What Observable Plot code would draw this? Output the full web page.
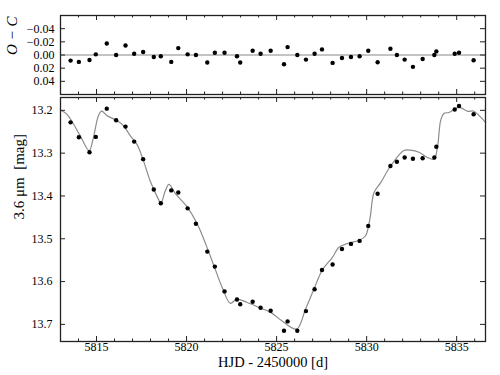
<!DOCTYPE html>
<html><head><meta charset="utf-8">
<script src="https://cdn.jsdelivr.net/npm/d3@7"></script>
<script src="https://cdn.jsdelivr.net/npm/@observablehq/plot@0.6"></script>
<style>
body{margin:0;background:#fff}
#chart svg{display:block;background:#fff}
#chart svg text{font-family:"Liberation Serif","DejaVu Serif",serif !important}
</style>
</head><body><div id="chart"></div>
<script>
// Observed epochs (HJD - 2450000), 3.6 micron magnitudes and O-C residuals
const jd = [5813.56, 5814.02, 5814.61, 5814.96, 5815.57, 5816.09, 5816.61, 5817.09, 5817.59, 5818.18,
  5818.57, 5819.15, 5819.54, 5820.06, 5820.52, 5821.15, 5821.57, 5822.11, 5822.80, 5822.98,
  5823.67, 5824.11, 5824.67, 5825.41, 5825.61, 5826.15, 5826.63, 5827.11, 5827.52, 5828.11,
  5828.63, 5829.13, 5829.61, 5830.09, 5830.61, 5831.32, 5831.68, 5832.11, 5832.57, 5833.11,
  5833.76, 5833.87, 5834.89, 5835.13, 5835.94];
const mag = [13.228, 13.263, 13.298, 13.262, 13.196, 13.223, 13.238, 13.273, 13.314, 13.385,
  13.417, 13.387, 13.392, 13.429, 13.465, 13.530, 13.565, 13.623, 13.642, 13.653,
  13.647, 13.661, 13.668, 13.715, 13.693, 13.715, 13.669, 13.618, 13.573, 13.560,
  13.524, 13.512, 13.505, 13.470, 13.395, 13.330, 13.320, 13.310, 13.313, 13.312,
  13.310, 13.285, 13.198, 13.190, 13.209];
const oc = [0.0085, 0.0105, 0.0075, -0.001, -0.0175, 0.000, -0.0145, -0.002, -0.0045, 0.003,
  0.002, 0.0105, -0.0105, -0.001, 0.000, 0.0115, -0.0035, -0.0035, 0.002, 0.0115,
  -0.0065, -0.002, -0.0065, 0.014, -0.012, 0.000, 0.007, -0.002, -0.0085, 0.012,
  0.0045, 0.003, 0.002, -0.0065, 0.011, -0.0095, 0.000, 0.007, 0.018, 0.006,
  0.000, -0.0055, -0.002, -0.0035, 0.008];

// Model light curve
const modelJd = [5813.00, 5813.35, 5813.72, 5814.09, 5814.59, 5814.83, 5815.11, 5815.29, 5815.57, 5816.13,
  5816.50, 5816.87, 5817.24, 5817.61, 5817.98, 5818.44, 5818.57, 5818.82, 5819.02, 5819.39,
  5820.04, 5820.59, 5821.06, 5821.52, 5821.98, 5822.44, 5822.78, 5823.37, 5824.11, 5824.67,
  5825.31, 5826.11, 5826.61, 5827.07, 5827.54, 5828.09, 5828.46, 5828.93, 5829.57, 5829.94,
  5830.13, 5830.22, 5830.41, 5830.78, 5831.33, 5832.07, 5832.44, 5832.91, 5833.37, 5833.74,
  5833.93, 5834.11, 5834.30, 5834.57, 5835.13, 5835.59, 5835.96, 5836.33, 5836.60];
const modelMag = [13.199, 13.209, 13.232, 13.259, 13.294, 13.263, 13.212, 13.202, 13.212, 13.224,
  13.236, 13.259, 13.279, 13.318, 13.365, 13.408, 13.418, 13.388, 13.373, 13.395,
  13.426, 13.465, 13.512, 13.563, 13.614, 13.651, 13.641, 13.649, 13.662, 13.672,
  13.692, 13.711, 13.664, 13.618, 13.573, 13.544, 13.520, 13.511, 13.504, 13.493,
  13.465, 13.443, 13.392, 13.369, 13.330, 13.294, 13.293, 13.298, 13.310, 13.314,
  13.287, 13.224, 13.207, 13.205, 13.193, 13.202, 13.202, 13.216, 13.228];

// Ticks
const xMajor = [5815, 5820, 5825, 5830, 5835];
const xMinor = [5813, 5814, 5816, 5817, 5818, 5819, 5821, 5822, 5823, 5824, 5826, 5827, 5828, 5829,
  5831, 5832, 5833, 5834, 5836];
const magTicks = [13.2, 13.3, 13.4, 13.5, 13.6, 13.7];
const ocTicks = [-0.04, -0.02, 0.00, 0.02, 0.04];

const xDomain = [5813, 5836.6];
const magDomain = [13.17, 13.74];
const ocDomain = [-0.06, 0.06];

const obs = jd.map((d, i) => ({jd: d, mag: mag[i], oc: oc[i]}));
const model = modelJd.map((d, i) => ({jd: d, mag: modelMag[i]}));

const W = 500, ML = 60, MR = 15;
const FW = W - ML - MR;
const INK = "#222";
const font = {fontFamily: "'Liberation Serif', 'DejaVu Serif', serif", fontSize: "12px", color: "#000", background: "#fff"};

function frameTicks(fh, yTicks) {
  return [
    Plot.tickX(xMajor, {insetTop: fh - 5, stroke: INK, strokeWidth: 1}),
    Plot.tickX(xMinor, {insetTop: fh - 2.5, stroke: INK, strokeWidth: 1}),
    Plot.tickX(xMajor, {insetBottom: fh - 5, stroke: INK, strokeWidth: 1}),
    Plot.tickX(xMinor, {insetBottom: fh - 2.5, stroke: INK, strokeWidth: 1}),
    Plot.tickY(yTicks, {insetRight: FW - 5, stroke: INK, strokeWidth: 1}),
    Plot.tickY(yTicks, {insetLeft: FW - 5, stroke: INK, strokeWidth: 1})
  ];
}

// Top panel: O - C
const H1 = 96, MT1 = 15, MB1 = 2;
const ocPanel = Plot.plot({
  width: W, height: H1, marginLeft: ML, marginRight: MR, marginTop: MT1, marginBottom: MB1,
  style: font,
  x: {domain: xDomain, axis: null},
  y: {domain: ocDomain, reverse: true},
  marks: [
    Plot.ruleY([0], {stroke: "#888", strokeWidth: 1}),
    Plot.dot(obs, {x: "jd", y: "oc", r: 2.2, fill: "#000", stroke: "none"}),
    ...frameTicks(H1 - MT1 - MB1, ocTicks),
    Plot.frame({stroke: INK, strokeWidth: 1.3}),
    Plot.axisY({ticks: ocTicks, tickSize: 0, tickPadding: 6, label: null,
      tickFormat: d => (d < 0 ? "\u2212" : "") + Math.abs(d).toFixed(2)}),
    Plot.text(["O \u2212 C"], {frameAnchor: "left", dx: -48, rotate: -90, fontStyle: "italic", fontSize: 15, fill: "#000"})
  ]
});

// Bottom panel: light curve
const H2 = 279, MT2 = 1, MB2 = 34;
const lcPanel = Plot.plot({
  width: W, height: H2, marginLeft: ML, marginRight: MR, marginTop: MT2, marginBottom: MB2,
  style: font,
  x: {domain: xDomain},
  y: {domain: magDomain, reverse: true},
  marks: [
    Plot.line(model, {x: "jd", y: "mag", stroke: "#8c8c8c", strokeWidth: 1.2, curve: "catmull-rom", clip: true}),
    Plot.dot(obs, {x: "jd", y: "mag", r: 2.2, fill: "#000", stroke: "none"}),
    ...frameTicks(H2 - MT2 - MB2, magTicks),
    Plot.frame({stroke: INK, strokeWidth: 1.3}),
    Plot.axisY({ticks: magTicks, tickSize: 0, tickPadding: 8, label: null, tickFormat: d => d.toFixed(1)}),
    Plot.axisX({ticks: xMajor, tickSize: 0, tickPadding: 1, label: null, tickFormat: d => String(d)}),
    Plot.text(["3.6 \u03bcm  [mag]"], {frameAnchor: "left", dx: -41, rotate: -90, fontSize: 15, fill: "#000"}),
    Plot.text(["HJD - 2450000 [d]"], {frameAnchor: "bottom", dy: 25.5, fontSize: 14.5, fill: "#000"})
  ]
});

const chart = document.getElementById("chart");
chart.appendChild(ocPanel);
chart.appendChild(lcPanel);
</script>
</body></html>
